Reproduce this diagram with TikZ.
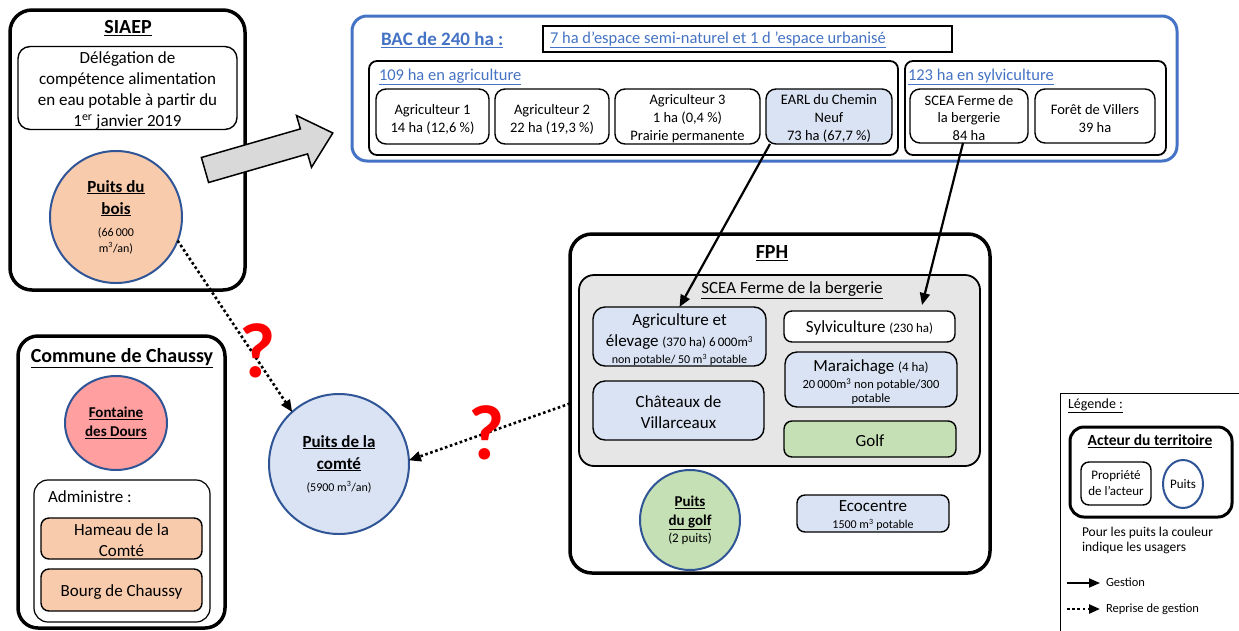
\documentclass[tikz,border=0pt]{standalone}
\usepackage{fontspec}
\setmainfont{Carlito}
\usetikzlibrary{arrows.meta,shapes.geometric}
\definecolor{peach}{HTML}{F8CBAD}
\definecolor{lblue}{HTML}{DAE3F3}
\definecolor{lgreen}{HTML}{C5E0B4}
\definecolor{lpink}{HTML}{FF9F9F}
\definecolor{wellblue}{HTML}{2F5597}
\definecolor{bacblue}{HTML}{4472C4}
\definecolor{lgrey}{HTML}{E7E6E6}
\definecolor{agrey}{HTML}{D9D9D9}
\definecolor{qred}{HTML}{FF0000}
\newcommand{\fsz}[2]{\fontsize{#1}{#2}\selectfont}
\newcommand{\bu}[1]{\textbf{\underline{#1}}}
\newcommand{\msup}{m\textsuperscript{3}}
\begin{document}
\begin{tikzpicture}[x=1pt,y=-1pt,
  every node/.style={inner sep=0pt, outer sep=0pt},
  actor/.style={draw, line width=3.5pt, rounded corners=22pt},
  box/.style={draw, line width=1.4pt, rounded corners=10pt, align=center, font=\fsz{14.5}{18}},
  bigbox/.style={draw, line width=1.4pt, rounded corners=12pt, align=center, font=\fsz{17}{21}},
  well/.style={circle, draw=wellblue, line width=2pt, align=center},
  ttl/.style={font=\fsz{20}{24}\bfseries},
  link/.style={text=bacblue, font=\fsz{16.5}{20}, anchor=west},
  gest/.style={-{Triangle[length=12pt,width=10pt]}, line width=2.2pt},
  reprise/.style={-{Triangle[length=12pt,width=10pt]}, line width=2.6pt, dash pattern=on 2.6pt off 2.6pt},
  qm/.style={text=qred, font=\fsz{78}{84}\bfseries}
]
\useasboundingbox[fill=white] (0,0) rectangle (1239,630);

% ---------------- SIAEP
\node[actor, minimum width=235pt, minimum height=280pt] (siaep) at (127.5,150) {};
\node[ttl] (siaepT) at (128,28) {\underline{SIAEP}};
\node[bigbox, minimum width=219pt, minimum height=81pt] (deleg) at (127.5,88)
  {\rule{0pt}{17pt}Délégation de\\compétence alimentation\\en eau potable à partir du\\1\textsuperscript{er} janvier 2019};
\node[well, fill=peach, minimum size=132pt, font=\fsz{17}{21}] (bois) at (116,217)
  {\bu{Puits du}\\[1pt]\bu{bois}\\[1pt]\fsz{12}{20}(66\,000\\[-5pt]\fsz{12}{16}\msup/an)};

% big grey arrow
\draw[fill=agrey, line width=1.5pt, line join=miter]
  (201.4,157.5) -- (300.4,128.9) -- (296.5,115.5) -- (332.8,133.0)
  -- (311.5,167.3) -- (307.6,153.9) -- (208.6,182.5) -- cycle;

% ---------------- BAC
\node[draw=bacblue, line width=3pt, rounded corners=15pt, minimum width=825pt, minimum height=145pt] (bac) at (764.5,88.5) {};
\node[text=bacblue, font=\fsz{19}{23}\bfseries, anchor=west] (bacT) at (381,40) {\underline{BAC de 240 ha :}};
\node[draw, line width=1.8pt, minimum width=409pt, minimum height=26pt] (semi) at (747.5,39) {};
\node[link] (semiT) at (550,40) {\underline{7 ha d’espace semi-naturel et 1 d ’espace urbanisé}};

\node[draw, line width=1.8pt, rounded corners=8pt, minimum width=529pt, minimum height=94pt] (agri) at (633.5,108) {};
\node[link] (agriT) at (379,77) {\underline{109 ha en agriculture}};
\node[box, minimum width=113pt, minimum height=55pt] (ag1) at (432.5,116.5) {\rule{0pt}{15pt}Agriculteur 1\\14 ha (12,6 \%)};
\node[box, minimum width=114pt, minimum height=55pt] (ag2) at (552,116.5) {\rule{0pt}{15pt}Agriculteur 2\\22 ha (19,3 \%)};
\node[box, minimum width=145pt, minimum height=55pt] (ag3) at (687.5,116.5) {\rule{0pt}{14pt}Agriculteur 3\\1 ha (0,4 \%)\\Prairie permanente};
\node[box, fill=lblue, minimum width=126pt, minimum height=55pt] (earl) at (829,116.5) {\rule{0pt}{14pt}EARL du Chemin\\Neuf\\73 ha (67,7 \%)};

\node[draw, line width=1.8pt, rounded corners=8pt, minimum width=261pt, minimum height=94pt] (sylvb) at (1035.5,108) {};
\node[link] (sylvT) at (908,77) {\underline{123 ha en sylviculture}};
\node[box, minimum width=118pt, minimum height=54pt] (sceaS) at (969,116) {\rule{0pt}{14pt}SCEA Ferme de\\[-0.5pt]la bergerie\\[-0.5pt]84 ha};
\node[box, minimum width=120pt, minimum height=54pt] (foret) at (1095,116) {\rule{0pt}{15pt}Forêt de Villers\\39 ha};

% ---------------- FPH
\node[actor, minimum width=420pt, minimum height=339pt] (fph) at (780,403.5) {};
\node[ttl] (fphT) at (772,253) {\underline{FPH}};
\node[draw, fill=lgrey, line width=1.8pt, rounded corners=15pt, minimum width=401pt, minimum height=191pt] (scea) at (779.5,370.5) {};
\node[font=\fsz{17}{21}] (sceaT) at (792,290) {\underline{SCEA Ferme de la bergerie}};
\node[bigbox, fill=lblue, minimum width=173pt, minimum height=59pt] (agel) at (679.5,336.5)
  {\rule{0pt}{18pt}Agriculture et\\élevage {\fsz{13}{16}(370 ha) 6\,000\msup}\\[-4pt]\fsz{12}{17}non potable/ 50 \msup\ potable};
\node[bigbox, fill=lblue, minimum width=171pt, minimum height=59pt] (chat) at (678.5,410.5) {\rule{0pt}{16pt}Châteaux de\\Villarceaux};
\node[bigbox, fill=white, rounded corners=8pt, minimum width=171pt, minimum height=31pt] (sylv) at (869.5,326.5) {\rule{0pt}{14pt}Sylviculture {\fsz{13}{16}(230 ha)}};
\node[bigbox, fill=lblue, minimum width=172pt, minimum height=55pt] (mara) at (871,379.5)
  {\rule{0pt}{17pt}Maraichage {\fsz{13}{16}(4 ha)}\\[-4pt]\fsz{12.5}{16}20\,000\msup\ non potable/300\\[-7pt]\fsz{12.5}{14.5}potable};
\node[bigbox, fill=lgreen, rounded corners=8pt, minimum width=172pt, minimum height=36pt] (golf) at (870,439) {\rule{0pt}{15pt}Golf};
\node[well, fill=lgreen, minimum size=100pt, font=\fsz{15}{19}] (pgolf) at (690,520)
  {\bu{Puits}\\\bu{du golf}\\[-2pt]\fsz{13}{17}(2 puits)};
\node[bigbox, fill=lblue, rounded corners=8pt, minimum width=152pt, minimum height=37pt] (eco) at (873,513.5)
  {\rule{0pt}{15pt}Ecocentre\\[-4pt]\fsz{12}{15}1500 \msup\ potable};

% ---------------- Commune
\node[actor, rounded corners=20pt, minimum width=207pt, minimum height=292pt] (comm) at (121.5,482) {};
\node[ttl] (commT) at (122,358) {\underline{Commune de Chaussy}};
\node[ellipse, draw=wellblue, line width=2pt, fill=lpink, minimum width=102pt, minimum height=94pt, align=center, font=\fsz{15}{19}] (font) at (116,423)
  {\bu{Fontaine}\\\bu{des Dours}};
\node[draw, line width=1.2pt, rounded corners=14pt, minimum width=176pt, minimum height=142pt] (adm) at (122,551) {};
\node[font=\fsz{17}{21}, anchor=west] (admT) at (48,497) {Administre :};
\node[bigbox, fill=peach, rounded corners=8pt, minimum width=161pt, minimum height=41pt] (ham) at (121.5,538.5) {\rule{0pt}{15pt}Hameau de la\\Comté};
\node[bigbox, fill=peach, rounded corners=8pt, minimum width=161pt, minimum height=42pt] (bourg) at (121.5,590) {\rule{0pt}{16pt}Bourg de Chaussy};

% ---------------- Puits de la comté
\node[well, fill=lblue, minimum size=140pt, font=\fsz{17}{21}] (comte) at (339,464)
  {\bu{Puits de la}\\[1pt]\bu{comté}\\[1pt]\fsz{12}{17}(5900 \msup/an)};

% ---------------- Legend
\node[draw, line width=1pt, minimum width=190pt, minimum height=250pt] (leg) at (1155,518) {};
\node[font=\fsz{14}{17}, anchor=west] (legT) at (1068,406) {\underline{Légende :}};
\node[actor, line width=3pt, rounded corners=14pt, minimum width=162pt, minimum height=90pt] (legA) at (1151,472) {};
\node[font=\fsz{15.5}{19}\bfseries] (legAT) at (1150,441) {\underline{Acteur du territoire}};
\node[box, rounded corners=8pt, font=\fsz{13}{16}, minimum width=70pt, minimum height=43pt] (legP) at (1116,483.5) {Propriété\\de l’acteur};
\node[ellipse, draw=wellblue, line width=2pt, minimum width=40pt, minimum height=48pt, font=\fsz{13}{16}] (legW) at (1183,484) {Puits};
\node[font=\fsz{13.5}{15}, align=left, anchor=north west] (legN) at (1082,527) {Pour les puits la couleur\\indique les usagers};
\node[font=\fsz{12.5}{15}, anchor=west] (legG) at (1106,582) {Gestion};
\node[font=\fsz{12.5}{15}, anchor=west] (legR) at (1106,609) {Reprise de gestion};
\coordinate (g0) at (1067,583);
\coordinate (r0) at (1067,609);
\draw[gest, line width=1.8pt, -{Triangle[length=11pt,width=9pt]}] (g0) -- ([xshift=-6pt]legG.west |- g0);
\draw[reprise, line width=2.4pt, -{Triangle[length=11pt,width=9pt]}] (r0) -- ([xshift=-6pt]legR.west |- r0);

% ---------------- connectors
\draw[gest] ([xshift=4pt]earl.south west) -- (agel.north);
\draw[gest] ([xshift=-6pt]sceaS.south) -- ([xshift=52.5pt, yshift=6pt]sylv.north);
\draw[reprise] (bois.-21) -- (comte.132);
\draw[reprise] (fph.west) -- (comte.3);

% question marks
\node[qm] (q1) at (258,351) {?};
\node[qm] (q2) at (487,433) {?};
\end{tikzpicture}
\end{document}
